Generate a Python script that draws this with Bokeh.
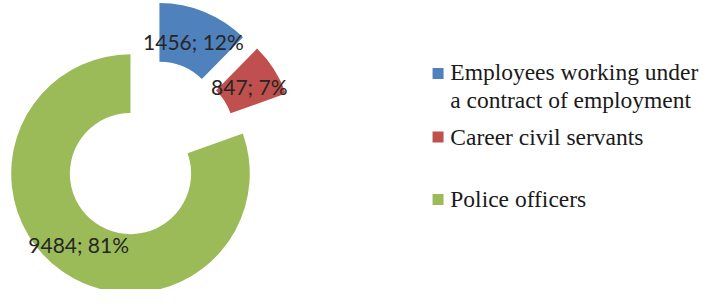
import math
from bokeh.plotting import figure
from bokeh.models import Range1d, ColumnDataSource
from bokeh.core.properties import value
from bokeh.embed import file_html
from bokeh.resources import INLINE

# ---- data ----
categories = ["Employees working under a contract of employment",
              "Career civil servants",
              "Police officers"]
legend_labels = ["Employees working under\na contract of employment",
                 "Career civil servants",
                 "Police officers"]
counts = [1456, 847, 9484]
percents = [12, 7, 81]
colors = ["#4F81BD", "#C0504D", "#9BBB59"]

# ---- layout: data units = reference pixels (y up), frame = whole picture ----
W, H = 704, 289
p = figure(width=W, height=H, output_backend="svg", toolbar_location=None,
           x_range=Range1d(0, 720), y_range=Range1d(0, 305),
           min_border=0, outline_line_color=None)
p.axis.visible = False
p.grid.visible = False

cx0, cy0 = 150.8, 147.7      # unexploded centre
explode = 31.0
r_in, r_out = 62.0, 122.0

total = sum(counts)
start = 0.0  # degrees clockwise from 12 o'clock
xs, ys, sa, ea, lx, ly, labels = [], [], [], [], [], [], []
for c, pc in zip(counts, percents):
    sweep = 360.0 * c / total
    mid = start + sweep / 2
    dx, dy = math.sin(math.radians(mid)), math.cos(math.radians(mid))
    x, y = cx0 + explode * dx, cy0 + explode * dy
    xs.append(x); ys.append(y)
    sa.append(math.radians(90 - (start + sweep)))
    ea.append(math.radians(90 - start))
    rm = (r_in + r_out) / 2
    lx.append(x + rm * dx); ly.append(y + rm * dy)
    labels.append(f"{c}; {pc}%")
    start += sweep

src = ColumnDataSource(dict(x=xs, y=ys, sa=sa, ea=ea, color=colors,
                            lx=lx, ly=ly, label=labels, cat=categories))
p.annular_wedge(x="x", y="y", inner_radius=r_in, outer_radius=r_out,
                start_angle="sa", end_angle="ea", direction="anticlock",
                fill_color="color", line_color=None, source=src)
p.text(x="lx", y="ly", text="label", source=src,
       text_font=value("Lato"), text_font_size="21px",
       text_color="#262626", text_align="center", text_baseline="middle")

# ---- legend drawn manually ----
sq_x = [447.5] * 3
sq_y = [305 - 77, 305 - 144, 305 - 210]
txt_x = [460] * 3
txt_y = [305 - 90.5, 305 - 144, 305 - 210]
p.scatter(x=sq_x, y=sq_y, marker="square", size=11, fill_color=colors, line_color=None)
p.text(x=txt_x, y=txt_y, text=legend_labels,
       text_font=value("Liberation Serif"), text_font_size="23.5px",
       text_color="#1a1a1a", text_align="left", text_baseline="middle",
       text_line_height=1.09)

open("out.html", "w").write(file_html(p, INLINE))
